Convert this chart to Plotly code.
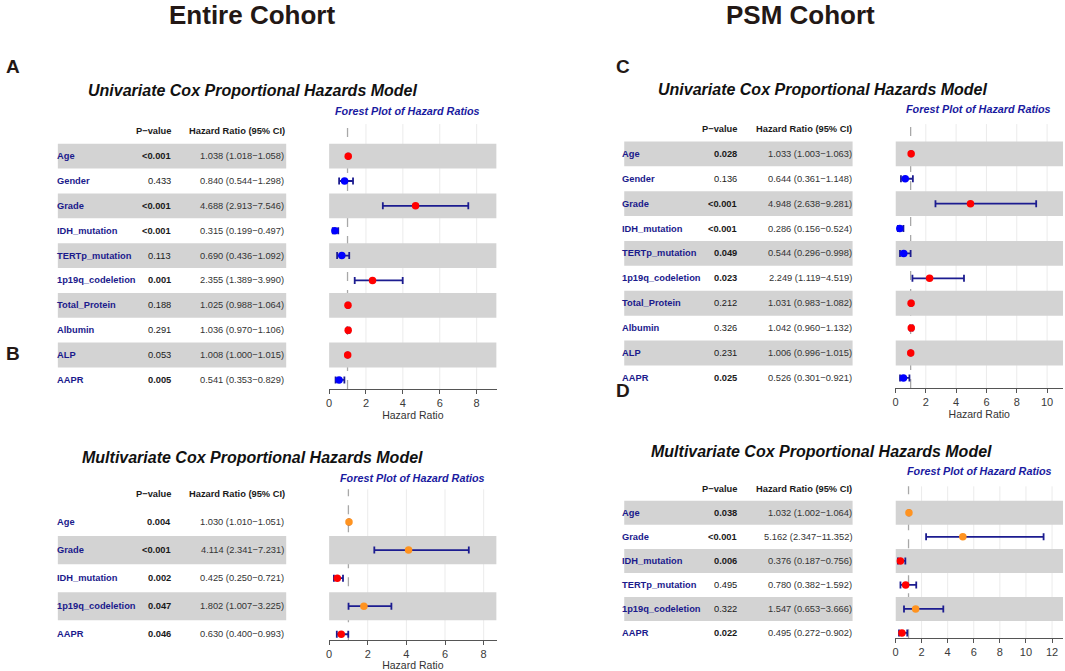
import plotly.graph_objects as go

W, H = 1065, 671

# ---------------- data ----------------
# Panel A: Entire cohort, univariate
a_vars = ["Age", "Gender", "Grade", "IDH_mutation", "TERTp_mutation", "1p19q_codeletion",
          "Total_Protein", "Albumin", "ALP", "AAPR"]
a_p = ["<0.001", "0.433", "<0.001", "<0.001", "0.113", "0.001", "0.188", "0.291", "0.053", "0.005"]
a_hr = [1.038, 0.840, 4.688, 0.315, 0.690, 2.355, 1.025, 1.036, 1.008, 0.541]
a_lo = [1.018, 0.544, 2.913, 0.199, 0.436, 1.389, 0.988, 0.970, 1.000, 0.353]
a_hi = [1.058, 1.298, 7.546, 0.497, 1.092, 3.990, 1.064, 1.106, 1.015, 0.829]

# Panel B: Entire cohort, multivariate
b_vars = ["Age", "Grade", "IDH_mutation", "1p19q_codeletion", "AAPR"]
b_p = ["0.004", "<0.001", "0.002", "0.047", "0.046"]
b_hr = [1.030, 4.114, 0.425, 1.802, 0.630]
b_lo = [1.010, 2.341, 0.250, 1.007, 0.400]
b_hi = [1.051, 7.231, 0.721, 3.225, 0.993]

# Panel C: PSM cohort, univariate
c_vars = ["Age", "Gender", "Grade", "IDH_mutation", "TERTp_mutation", "1p19q_codeletion",
          "Total_Protein", "Albumin", "ALP", "AAPR"]
c_p = ["0.028", "0.136", "<0.001", "<0.001", "0.049", "0.023", "0.212", "0.326", "0.231", "0.025"]
c_hr = [1.033, 0.644, 4.948, 0.286, 0.544, 2.249, 1.031, 1.042, 1.006, 0.526]
c_lo = [1.003, 0.361, 2.638, 0.156, 0.296, 1.119, 0.983, 0.960, 0.996, 0.301]
c_hi = [1.063, 1.148, 9.281, 0.524, 0.998, 4.519, 1.082, 1.132, 1.015, 0.921]

# Panel D: PSM cohort, multivariate
d_vars = ["Age", "Grade", "IDH_mutation", "TERTp_mutation", "1p19q_codeletion", "AAPR"]
d_p = ["0.038", "<0.001", "0.006", "0.495", "0.322", "0.022"]
d_hr = [1.032, 5.162, 0.376, 0.780, 1.547, 0.495]
d_lo = [1.002, 2.347, 0.187, 0.382, 0.653, 0.272]
d_hi = [1.064, 11.352, 0.756, 1.592, 3.666, 0.902]

a_ticks = [0, 2, 4, 6, 8]
b_ticks = [0, 2, 4, 6, 8]
c_ticks = [0, 2, 4, 6, 8, 10]
d_ticks = [0, 2, 4, 6, 8, 10, 12]

# ---------------- styling ----------------
FONT = "Liberation Sans, Arial, sans-serif"
NAVY = "#1A1A8C"
ERR = "#1C1C90"
BAND = "#D3D3D3"
GRID = "#EBEBEB"
RED = "#FF0000"
BLUE = "#0000FF"
ORANGE = "#FF9320"


def fx(px):
    return px / W


def fy(py):
    return 1 - py / H


panels = [
    dict(n=1, vars=a_vars, p=a_p, hr=a_hr, lo=a_lo, hi=a_hi, ticks=a_ticks,
         box=(327, 495, 125, 392), row0=157.3, sp=25.05, xmax=9.08,
         tab=(56, 169, 283), band=(55, 284), up=RED, down=BLUE, xtitle=True),
    dict(n=2, vars=b_vars, p=b_p, hr=b_hr, lo=b_lo, hi=b_hi, ticks=b_ticks,
         box=(327, 495, 493, 645), row0=526, sp=28.25, xmax=8.67,
         tab=(56, 169, 283), band=(55, 284), up=ORANGE, down=RED, xtitle=True),
    dict(n=3, vars=c_vars, p=c_p, hr=c_hr, lo=c_lo, hi=c_hi, ticks=c_ticks,
         box=(895, 1063, 125, 391), row0=155, sp=25.08, xmax=11.05,
         tab=(623, 737, 852), band=(623, 852), up=RED, down=BLUE, xtitle=True),
    dict(n=4, vars=d_vars, p=d_p, hr=d_hr, lo=d_lo, hi=d_hi, ticks=d_ticks,
         box=(895, 1063, 490, 643), row0=516.7, sp=24.2, xmax=12.84,
         tab=(623, 737, 852), band=(623, 852), up=ORANGE, down=RED, xtitle=False),
]

fig = go.Figure()
shapes = []
annotations = []
layout_axes = {}


def is_sig(p):
    if p.startswith("<"):
        return True
    return float(p) < 0.05


for P in panels:
    n = P["n"]
    xname = "x" if n == 1 else f"x{n}"
    yname = "y" if n == 1 else f"y{n}"
    xkey = "xaxis" if n == 1 else f"xaxis{n}"
    ykey = "yaxis" if n == 1 else f"yaxis{n}"
    left, right, top, bottom = P["box"]
    ytop = (top - P["row0"]) / P["sp"]
    ybot = (bottom - P["row0"]) / P["sp"]
    nrow = len(P["vars"])
    idx = list(range(nrow))

    layout_axes[xkey] = dict(
        domain=[fx(left), fx(right)], range=[0, P["xmax"]], anchor=yname,
        tickvals=P["ticks"], showgrid=False,
        zeroline=False, showline=True, linecolor="#555555", linewidth=1,
        ticks="outside", ticklen=4, tickcolor="#555555",
        tickfont=dict(family=FONT, size=11, color="#3a3a3a"),
        title=dict(text="Hazard Ratio" if P["xtitle"] else "",
                   font=dict(family=FONT, size=10.5, color="#333333"), standoff=3),
    )
    layout_axes[ykey] = dict(
        domain=[fy(bottom), fy(top)], range=[ybot, ytop], anchor=xname,
        visible=False, showgrid=False, zeroline=False,
    )

    colors = [P["up"] if h > 1 else P["down"] for h in P["hr"]]
    fig.add_trace(go.Scatter(
        x=P["hr"], y=idx, mode="markers", xaxis=xname, yaxis=yname,
        marker=dict(color=colors, size=7.5, line=dict(width=0)),
        error_x=dict(type="data", symmetric=False,
                     array=[h - m for h, m in zip(P["hi"], P["hr"])],
                     arrayminus=[m - l for m, l in zip(P["hr"], P["lo"])],
                     color=ERR, thickness=1.8, width=3.5),
        showlegend=False, cliponaxis=False, hoverinfo="skip",
    ))

    # faint vertical gridlines at tick values (drawn first, under the bands)
    for t in P["ticks"][1:]:
        shapes.append(dict(type="line", xref=xname, yref=f"{yname} domain",
                           x0=t, x1=t, y0=0, y1=1,
                           line=dict(color=GRID, width=1), layer="below"))
    # alternating bands (counted from the bottom row, which is white)
    for i in idx:
        if (nrow - 1 - i) % 2 == 1:
            shapes.append(dict(type="rect", xref="paper", yref=yname,
                               x0=fx(P["band"][0]), x1=fx(P["band"][1]),
                               y0=i - 0.5, y1=i + 0.5, fillcolor=BAND,
                               line=dict(width=0), layer="below"))
            shapes.append(dict(type="rect", xref=xname, yref=yname,
                               x0=0, x1=P["xmax"], y0=i - 0.5, y1=i + 0.5, fillcolor=BAND,
                               line=dict(width=0), layer="below"))
    # reference line at HR = 1
    shapes.append(dict(type="line", xref=xname, yref=f"{yname} domain",
                       x0=1, x1=1, y0=0, y1=1,
                       line=dict(color="#A8A8A8", width=1.3, dash="dash"),
                       layer="below"))

    lx, px_, hx = P["tab"]
    # header
    annotations.append(dict(text="<b>P\u2212value</b>", xref="paper", yref=yname,
                            x=fx(px_ + 1.5), y=-1, xanchor="right", yanchor="middle",
                            showarrow=False, font=dict(family=FONT, size=9.3, color="#1a1a1a")))
    annotations.append(dict(text="<b>Hazard Ratio (95% CI)</b>", xref="paper", yref=yname,
                            x=fx(hx + 1.5), y=-1, xanchor="right", yanchor="middle",
                            showarrow=False, font=dict(family=FONT, size=9.3, color="#1a1a1a")))
    for i in idx:
        annotations.append(dict(text=f"<b>{P['vars'][i]}</b>", xref="paper", yref=yname,
                                x=fx(lx - 4), y=i, xanchor="left", yanchor="middle",
                                showarrow=False, font=dict(family=FONT, size=9.3, color=NAVY)))
        pv = P["p"][i].replace("<", "&lt;")
        ptxt = f"<b>{pv}</b>" if is_sig(P["p"][i]) else pv
        annotations.append(dict(text=ptxt, xref="paper", yref=yname,
                                x=fx(px_ + 1.5), y=i, xanchor="right", yanchor="middle",
                                showarrow=False, font=dict(family=FONT, size=9.3, color="#1a1a1a")))
        hrtxt = f"{P['hr'][i]:.3f} ({P['lo'][i]:.3f}\u2212{P['hi'][i]:.3f})"
        annotations.append(dict(text=hrtxt, xref="paper", yref=yname,
                                x=fx(hx + 1), y=i, xanchor="right", yanchor="middle",
                                showarrow=False, font=dict(family=FONT, size=9.3, color="#333333")))


def paper_text(text, x, y, size, color="#111111", anchor="center"):
    annotations.append(dict(text=text, xref="paper", yref="paper", x=fx(x), y=fy(y),
                            xanchor=anchor, yanchor="middle", showarrow=False,
                            font=dict(family=FONT, size=size, color=color)))


paper_text("<b>Entire Cohort</b>", 250, 15, 26, "#231815")
paper_text("<b>PSM Cohort</b>", 800, 15, 26, "#231815")
paper_text("<b>A</b>", 10, 67, 19, "#231815")
paper_text("<b>B</b>", 10, 356, 19, "#231815")
paper_text("<b>C</b>", 622, 67, 19, "#231815")
paper_text("<b>D</b>", 622, 393, 19, "#231815")
paper_text("<b><i>Univariate Cox Proportional Hazards Model</i></b>", 251, 91, 16)
paper_text("<b><i>Multivariate Cox Proportional Hazards Model</i></b>", 250, 461, 16)
paper_text("<b><i>Univariate Cox Proportional Hazards Model</i></b>", 822, 90, 16)
paper_text("<b><i>Multivariate Cox Proportional Hazards Model</i></b>", 821, 455, 16)
paper_text("<b><i>Forest Plot of Hazard Ratios</i></b>", 406, 112, 10.8, "#1A1AA0")
paper_text("<b><i>Forest Plot of Hazard Ratios</i></b>", 411, 482, 10.8, "#1A1AA0")
paper_text("<b><i>Forest Plot of Hazard Ratios</i></b>", 978, 110, 10.8, "#1A1AA0")
paper_text("<b><i>Forest Plot of Hazard Ratios</i></b>", 979, 475, 10.8, "#1A1AA0")

fig.update_layout(
    width=W, height=H, margin=dict(l=0, r=0, t=0, b=0),
    paper_bgcolor="white", plot_bgcolor="white",
    font=dict(family=FONT, color="#222222"),
    shapes=shapes, annotations=annotations, showlegend=False,
    **layout_axes,
)

fig.write_html("out.html", config={"displayModeBar": False},
               post_script="document.body.style.margin='0px';document.body.style.overflow='hidden';")
